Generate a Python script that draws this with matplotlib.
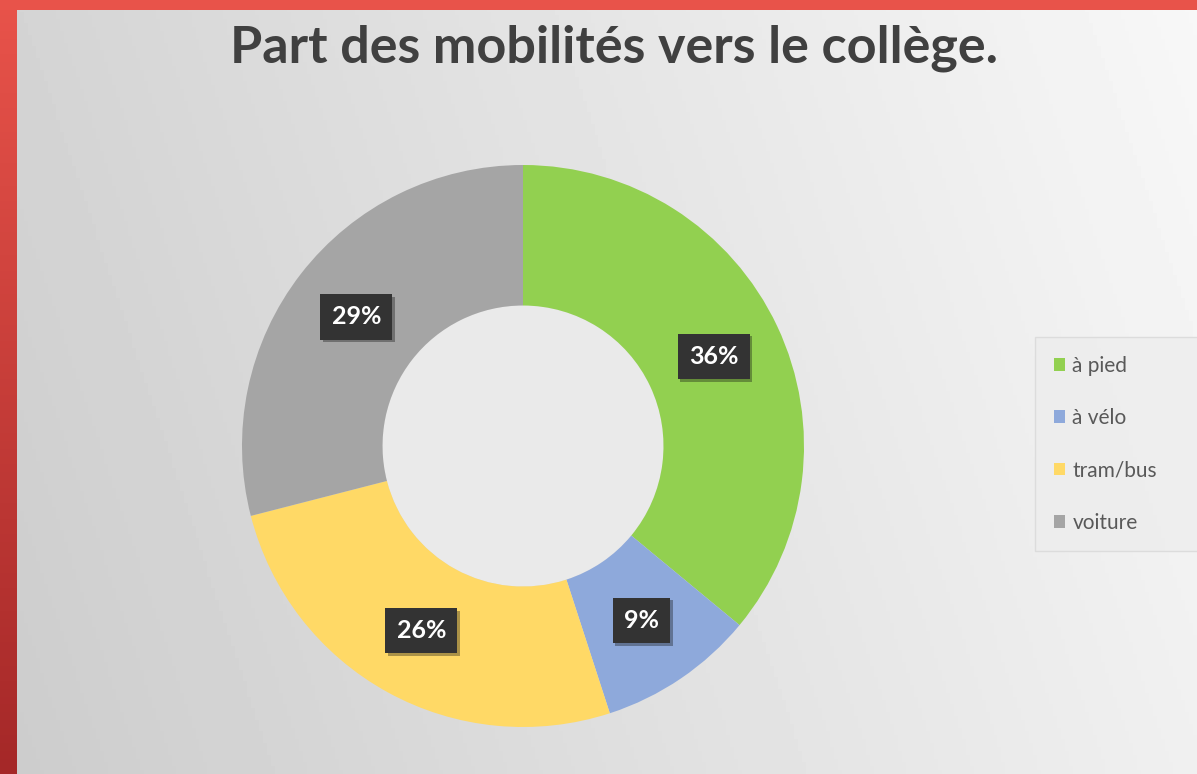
import numpy as np
import matplotlib.pyplot as plt
from matplotlib.colors import LinearSegmentedColormap
from matplotlib.patches import Rectangle, Circle
from matplotlib.patheffects import SimplePatchShadow, Normal

labels = ['à pied', 'à vélo', 'tram/bus', 'voiture']
shares = [36, 9, 26, 29]
colors = ['#92D050', '#8EA9DB', '#FFD966', '#A5A5A5']
title = 'Part des mobilités vers le collège.'

W, H = 1197, 774
fig = plt.figure(figsize=(W / 100, H / 100), dpi=100)

# background: gray gradient, lighter towards the upper right
bg = fig.add_axes([0, 0, 1, 1])
xx, yy = np.meshgrid(np.linspace(0, 1, 300), np.linspace(0, 1, 200))
grad = 0.80 + 0.14 * xx + 0.03 * (1 - yy)
bg.imshow(np.clip(grad, 0, 1), cmap='gray', vmin=0, vmax=1, aspect='auto',
          extent=[0, 1, 0, 1], origin='upper')
# red frame on the left and top
red = np.linspace(0, 1, 100)[:, None]
bg.imshow(red, cmap=LinearSegmentedColormap.from_list('r', ['#E8534A', '#A52828']),
          aspect='auto', extent=[0, 17 / W, 0, 1], origin='upper')
bg.add_patch(Rectangle((0, 1 - 10 / H), 1, 10 / H, color='#E8534A', lw=0))
bg.set_xlim(0, 1)
bg.set_ylim(0, 1)
bg.axis('off')

fig.text(614 / W, 1 - 48 / H, title, ha='center', va='center',
         fontsize=37.5, fontweight='bold', family='Lato', color='#404040')

# donut
cx, cy, r = 523, 446, 281
ax = fig.add_axes([(cx - r) / W, (H - cy - r) / H, 2 * r / W, 2 * r / H])
wedges, _, autotexts = ax.pie(
    shares, colors=colors, startangle=90, counterclock=False, radius=1,
    wedgeprops=dict(width=0.5, linewidth=0), autopct='%d%%', pctdistance=0.75,
    textprops=dict(color='white', fontsize=18, fontweight='bold', family='Lato'))
for t in autotexts:
    t.set_bbox(dict(boxstyle='square,pad=0.45', fc='#333333', ec='none'))
    t.get_bbox_patch().set_path_effects([SimplePatchShadow(offset=(2, -2), alpha=0.35), Normal()])
ax.add_patch(Circle((0, 0), 0.5, fc='#EAEAEA', ec='none', zorder=0))
ax.set_xlim(-1, 1)
ax.set_ylim(-1, 1)
ax.axis('off')

# legend (runs off the right edge like the original)
leg = fig.legend(wedges, labels, loc='upper left', mode='expand',
                 bbox_to_anchor=(1035 / W, 1 - 337 / H, 200 / W, 0),
                 frameon=True, prop=dict(family='Lato', size=15),
                 handlelength=0.55, handleheight=0.55, handletextpad=0.35,
                 labelspacing=1.55, borderpad=0.9, borderaxespad=0,
                 fancybox=False)
leg.get_frame().set_facecolor('#EDEDED')
leg.get_frame().set_edgecolor('#D8D8D8')
for t in leg.get_texts():
    t.set_color('#595959')

fig.savefig('out.png', dpi=100)
